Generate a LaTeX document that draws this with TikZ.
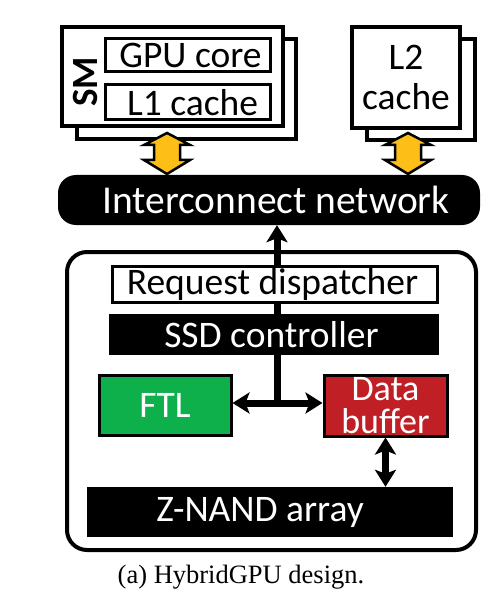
\documentclass[tikz,border=0pt]{standalone}
\usepackage{fontspec}
\setmainfont{Carlito}
\newfontfamily\capfont{Liberation Serif}
\usetikzlibrary{arrows.meta,calc,backgrounds}
\definecolor{ftlgreen}{HTML}{0DB04B}
\definecolor{bufred}{HTML}{C01F26}
\definecolor{busorange}{HTML}{FDBF17}
\tikzset{
  big/.style={font=\fontsize{37.5}{40}\selectfont},
  box/.style={draw, line width=4pt, fill=white, inner sep=0pt},
  subbox/.style={draw, line width=3pt, fill=white, inner sep=0pt, big},
  darkbar/.style={fill=black, text=white, inner sep=0pt, big},
  colbox/.style={draw, line width=3pt, text=white, inner sep=0pt, big, align=center},
  link/.style={line width=7pt},
  tip/.tip={Stealth[length=17pt,width=21pt,inset=4pt]},
  busarrow/.style={draw, line width=2.5pt, fill=busorange, line join=miter}
}
% fat double arrow between two points
\newcommand{\busarrow}[2]{%
  \draw[busarrow] (#1) -- ($(#1)+(23,12)$) -- ($(#1)+(13,12)$) -- ($(#2)+(13,-14)$)
    -- ($(#2)+(23,-14)$) -- (#2) -- ($(#2)+(-23,-14)$) -- ($(#2)+(-13,-14)$)
    -- ($(#1)+(-13,12)$) -- ($(#1)+(-23,12)$) -- cycle;}
\begin{document}
\begin{tikzpicture}[x=1pt,y=-1pt]
    \useasboundingbox (0,0) rectangle (498,612);

    %SM
    \node[box, minimum width=219, minimum height=100] (smback) at (186.5,89) {};
    \node[box, minimum width=221, minimum height=99] (sm) at (172.5,76.5) {};
    \node[subbox, minimum width=165, minimum height=33] (core) at (187.5,55.5) {GPU core\hspace*{-6pt}};
    \node[subbox, minimum width=165, minimum height=35] (lone) at (187.5,102.5) {L1 cache\hspace*{-10pt}};
    \node[rotate=90, font=\fontsize{37}{40}\selectfont\bfseries] (smlabel) at (85,82) {SM};
    %L2
    \node[box, minimum width=108, minimum height=101] (ltwoback) at (421,89.5) {};
    \node[box, minimum width=108, minimum height=101, align=center,
          font=\fontsize{37.5}{40}\selectfont] (ltwo) at (406,77.5) {L2\\cache};
    %Interconnect
    \node[darkbar, rounded corners=18pt, minimum width=422, minimum height=50,
          font=\fontsize{39.5}{40}\selectfont] (net) at (269,200) {\hspace*{14pt}Interconnect network};
    \coordinate (smtip) at (167,133);
    \coordinate (smbot) at (167,174);
    \coordinate (ltwotip) at (408,133);
    \coordinate (ltwobot) at (408,174);
    \busarrow{smtip}{smbot}
    \busarrow{ltwotip}{ltwobot}
    %SSD
    \node[box, fill=none, rounded corners=20pt, minimum width=409, minimum height=298] (ssd) at (271.5,401) {};
    \node[subbox, minimum width=325, minimum height=36] (disp) at (275,284.5) {Request dispatcher\hspace*{5pt}};
    \node[darkbar, minimum width=330, minimum height=41] (ctrl) at (274,334.5) {SSD controller\hspace*{5pt}};
    \node[colbox, fill=ftlgreen, minimum width=132, minimum height=60] (ftl) at (165,405) {FTL};
    \node[colbox, fill=bufred, minimum width=123, minimum height=61,
          font=\fontsize{36}{33}\selectfont] (buf) at (385.5,405.5) {Data\\buffer};
    \node[darkbar, minimum width=366, minimum height=50] (nand) at (270,512) {Z-NAND array\hspace*{20pt}};
    %Links
    \coordinate (jn) at (277,403);
    \begin{scope}[on background layer]
      \draw[link, -tip] (jn) -- (jn |- net.south);
    \end{scope}
    \draw[link, tip-tip] (ftl.east |- jn) -- (buf.west |- jn);
    \draw[link, tip-tip] (buf.south) -- (buf.south |- nand.north);
    %Caption
    \node[font=\capfont\fontsize{26.5}{28}\selectfont] (caption) at (241,577) {(a) HybridGPU design.};
\end{tikzpicture}
\end{document}
